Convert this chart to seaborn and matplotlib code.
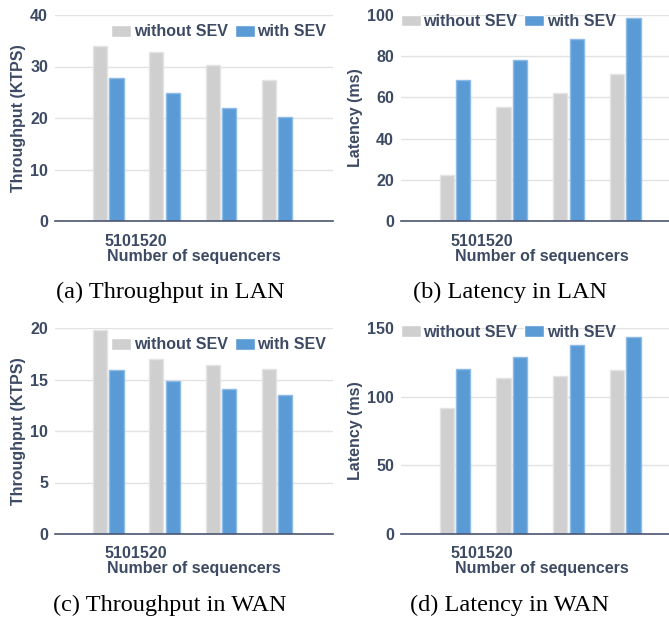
import pandas as pd
import matplotlib.pyplot as plt
import seaborn as sns
from matplotlib.transforms import ScaledTranslation

# Data
sequencers = ['5', '10', '15', '20']
configs = ['without SEV', 'with SEV']

lan_tput_nosev = [34.0, 32.9, 30.3, 27.3]
lan_tput_sev = [27.8, 24.8, 21.9, 20.1]
lan_lat_nosev = [22.3, 55.3, 62.3, 71.4]
lan_lat_sev = [68.3, 78.3, 88.2, 98.4]
wan_tput_nosev = [19.8, 17.0, 16.4, 16.0]
wan_tput_sev = [15.9, 14.9, 14.1, 13.5]
wan_lat_nosev = [91.5, 113.5, 115.4, 119.3]
wan_lat_sev = [120.3, 129.2, 137.4, 143.2]

TXT = '#3d4a63'
GREY = '#cfcfcf'
BLUE = '#5b9bd5'

sns.set_theme(style='white')
plt.rcParams['font.family'] = ['Liberation Sans', 'DejaVu Sans']
plt.rcParams['font.weight'] = 'bold'
plt.rcParams['axes.labelweight'] = 'bold'


def make_df(nosev, sev):
    return pd.DataFrame({
        'seq': sequencers * 2,
        'value': nosev + sev,
        'config': [configs[0]] * 4 + [configs[1]] * 4,
    })


def draw(ax, nosev, sev, ylabel, ymax, yticks, leg_loc, leg_anchor):
    df = make_df(nosev, sev)
    sns.barplot(data=df, x='seq', y='value', hue='config', order=sequencers,
                hue_order=configs, palette=[GREY, BLUE], saturation=1,
                width=0.58, gap=0.14, linewidth=1.0, ax=ax, zorder=3)
    for cont, ec in zip(ax.containers, ['#e4e4e4', '#8dbbe8']):
        for p in cont:
            p.set_edgecolor(ec)
    ax.set_xlim(-0.95, 4.0)
    ax.set_ylim(0, ymax)
    ax.set_yticks(yticks)
    ax.yaxis.grid(True, color='#e2e2e2', linewidth=1.0, zorder=0)
    ax.set_axisbelow(True)
    for s in ['left', 'right', 'top']:
        ax.spines[s].set_visible(False)
    ax.spines['bottom'].set_color('#4a5570')
    ax.spines['bottom'].set_linewidth(1.2)
    ax.spines['bottom'].set_zorder(4)

    # tick marks at group centres, squashed labels at the first one
    ax.xaxis.remove_overlapping_locs = False
    ax.set_xticks(range(len(sequencers)))
    ax.set_xticklabels([''] * len(sequencers))
    ax.set_xticks([0], minor=True)
    ax.set_xticklabels([''.join(sequencers)], minor=True)
    for lab in ax.get_xticklabels(minor=True):
        lab.set_ha('left')
    ax.tick_params(axis='x', which='major', length=3, color='#4a5570', direction='out')
    ax.tick_params(axis='x', which='minor', length=0, pad=9, labelsize=11.5, labelcolor=TXT)
    ax.tick_params(axis='y', length=3, color='#4a5570', direction='out', pad=2,
                   labelsize=11.5, labelcolor=TXT)
    for lab in ax.get_xticklabels(minor=True) + ax.get_yticklabels():
        lab.set_fontweight('bold')

    ax.set_xlabel('Number of sequencers', fontsize=11.5, color=TXT, labelpad=0)
    ax.set_ylabel(ylabel, fontsize=11.5, color=TXT, labelpad=3)
    ax.legend(loc=leg_loc, bbox_to_anchor=leg_anchor, ncol=2, frameon=False,
              handlelength=1.25, handleheight=0.75, handletextpad=0.15,
              columnspacing=0.45, borderpad=0, borderaxespad=0, labelcolor=TXT,
              prop={'weight': 'bold', 'size': 11.5})


fig = plt.figure(figsize=(6.69, 6.20), dpi=100)
W, H = 669, 620
aw = 281 / W
ah = 206 / H
ax_a = fig.add_axes([55 / W, 1 - 221 / H, 278 / W, ah])
ax_b = fig.add_axes([401 / W, 1 - 221 / H, aw, ah])
ax_c = fig.add_axes([55 / W, 1 - 534 / H, 278 / W, ah])
ax_d = fig.add_axes([401 / W, 1 - 534 / H, aw, ah])

draw(ax_a, lan_tput_nosev, lan_tput_sev, 'Throughput (KTPS)', 40, [0, 10, 20, 30, 40],
     'upper right', (0.975, 0.955))
draw(ax_b, lan_lat_nosev, lan_lat_sev, 'Latency (ms)', 100, [0, 20, 40, 60, 80, 100],
     'upper left', (0.0, 1.005))
draw(ax_c, wan_tput_nosev, wan_tput_sev, 'Throughput (KTPS)', 20, [0, 5, 10, 15, 20],
     'upper right', (0.975, 0.955))
draw(ax_d, wan_lat_nosev, wan_lat_sev, 'Latency (ms)', 150, [0, 50, 100, 150],
     'upper left', (0.0, 1.015))

# shift the squashed tick labels a few pixels left of the first tick
for ax in [ax_a, ax_b, ax_c, ax_d]:
    for lab in ax.get_xticklabels(minor=True):
        lab.set_transform(lab.get_transform() + ScaledTranslation(-4 / 100, 0, fig.dpi_scale_trans))

captions = [('(a) Throughput in LAN', 170, 292), ('(b) Latency in LAN', 510, 292),
            ('(c) Throughput in WAN', 170, 605), ('(d) Latency in WAN', 510, 605)]
for txt, cx, cy in captions:
    fig.text(cx / W, 1 - cy / H, txt, ha='center', va='center', fontsize=17.5,
             family='Liberation Serif', weight='normal', color='black')

fig.savefig('out.png', dpi=100)
